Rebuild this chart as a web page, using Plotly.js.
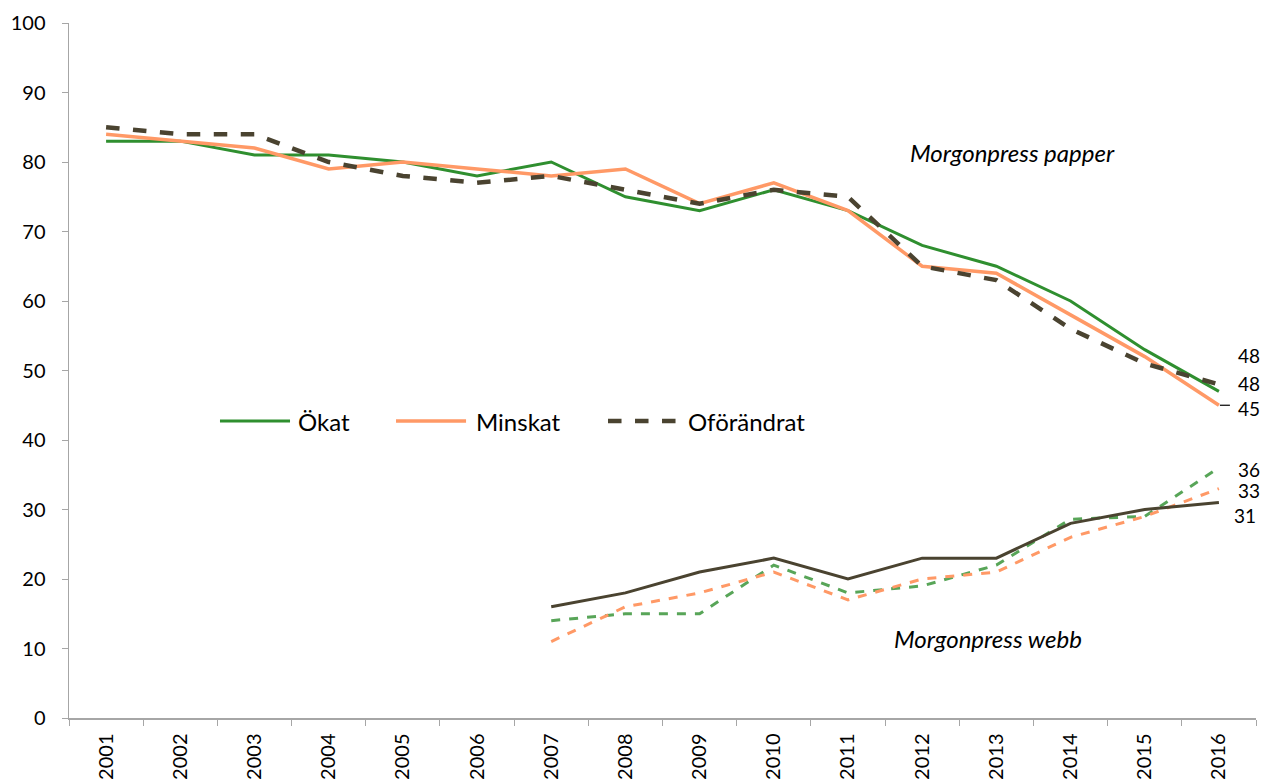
<!DOCTYPE html>
<html><head><meta charset="utf-8">
<script src="https://cdn.plot.ly/plotly-3.0.1.min.js"></script>
<style>body{margin:0;background:#fff}#c{width:1264px;height:782px}</style>
</head><body><div id="c"></div>
<script>
const years = ["2001","2002","2003","2004","2005","2006","2007","2008","2009","2010","2011","2012","2013","2014","2015","2016"];
const webbYears = ["2007","2008","2009","2010","2011","2012","2013","2014","2015","2016"];
// Morgonpress papper
const paperOkat = [83,83,81,81,80,78,80,75,73,76,73,68,65,60,53,47];
const paperMinskat = [84,83,82,79,80,79,78,79,74,77,73,65,64,58,52,45];
const paperOforandrat = [85,84,84,80,78,77,78,76,74,76,75,65,63,56,51,48];
// Morgonpress webb
const webbOkat = [14,15,15,22,18,19,22,28.6,29,36];
const webbMinskat = [11,16,18,21,17,20,21,26,29,33];
const webbOforandrat = [16,18,21,23,20,23,23,28,30,31];
const endLabelTexts = ["48","48","45","36","33","31"];
const endLabelY = [52.2,48.1,44.6,35.8,32.8,29.2];
const seriesNames = ["Ökat","Minskat","Oförändrat"];
const panelLabels = ["Morgonpress papper","Morgonpress webb"];

const green = "#2f8f2f", orange = "#ff9966", dark = "#4a4330", lgreen = "#58a558";
const font = "Lato, 'Open Sans', sans-serif";

const traces = [
  {x:years, y:paperOkat, name:seriesNames[0], mode:"lines", line:{color:green, width:3}, showlegend:false},
  {x:years, y:paperMinskat, name:seriesNames[1], mode:"lines", line:{color:orange, width:3.5}, showlegend:false},
  {x:years, y:paperOforandrat, name:seriesNames[2], mode:"lines", line:{color:dark, width:4.5, dash:"dash"}, showlegend:false},
  {x:webbYears, y:webbOkat, name:"webb " + seriesNames[0], mode:"lines", line:{color:lgreen, width:3, dash:"dash"}, showlegend:false},
  {x:webbYears, y:webbMinskat, name:"webb " + seriesNames[1], mode:"lines", line:{color:orange, width:3, dash:"dash"}, showlegend:false},
  {x:webbYears, y:webbOforandrat, name:"webb " + seriesNames[2], mode:"lines", line:{color:dark, width:3}, showlegend:false}
];

const last = years.length - 1;
const annotations = endLabelTexts.map((t, i) => ({
  x: last, y: endLabelY[i], xref:"x", yref:"y", text:t, showarrow:false,
  xshift: (t === "31") ? 26 : 30, font:{family:font, size:19, color:"#000"}
}));
annotations.push({x:12, y:81.4, xref:"x", yref:"y", text:"<i>" + panelLabels[0] + "</i>", showarrow:false, xshift:16, font:{family:font, size:24, color:"#000"}});
annotations.push({x:11, y:11.5, xref:"x", yref:"y", text:"<i>" + panelLabels[1] + "</i>", showarrow:false, xshift:66, font:{family:font, size:24, color:"#000"}});

// legend (drawn manually to match the long line samples)
const legY = 0.4273;
const legItems = [
  {x0:0.1272, x1:0.1862, tx:0.1912, color:green, dash:"solid", width:3},
  {x0:0.2755, x1:0.3345, tx:0.3412, color:orange, dash:"solid", width:3.5},
  {x0:0.4541, x1:0.5147, tx:0.5198, color:dark, dash:"dash", width:4.5}
];
const shapes = legItems.map(it => ({type:"line", xref:"paper", yref:"paper", x0:it.x0, x1:it.x1, y0:legY, y1:legY,
  line:{color:it.color, width:it.width, dash:it.dash}}));
legItems.forEach((it, i) => annotations.push({xref:"paper", yref:"paper", x:it.tx, y:legY, xanchor:"left", yanchor:"middle",
  text:seriesNames[i], showarrow:false, font:{family:font, size:24, color:"#000"}}));
// leader line for "45"
shapes.push({type:"line", xref:"x", yref:"y", xsizemode:"pixel", xanchor:last, x0:1, x1:11, y0:paperMinskat[last], y1:paperMinskat[last], line:{color:"#000", width:1.2}});

const layout = {
  width:1264, height:782,
  margin:{l:69, r:8, t:23, b:64},
  paper_bgcolor:"#fff", plot_bgcolor:"#fff",
  font:{family:font, size:20, color:"#000"},
  showlegend:false,
  xaxis:{type:"category", range:[-0.5,15.5], tickangle:-90, showgrid:false, showline:true, linecolor:"#a6a6a6", linewidth:1.5,
         ticks:"outside", tickson:"boundaries", ticklen:6, tickcolor:"#a6a6a6", tickfont:{family:font, size:20}, zeroline:false, ticklabelstandoff:6},
  yaxis:{range:[0,100], dtick:10, showgrid:false, showline:true, linecolor:"#a6a6a6", linewidth:1.5,
         ticks:"outside", ticklen:6, tickcolor:"#a6a6a6", tickfont:{family:font, size:20}, zeroline:false, ticklabelstandoff:12},
  annotations:annotations,
  shapes:shapes
};
Plotly.newPlot("c", traces, layout, {displayModeBar:false, staticPlot:true});
</script></body></html>
